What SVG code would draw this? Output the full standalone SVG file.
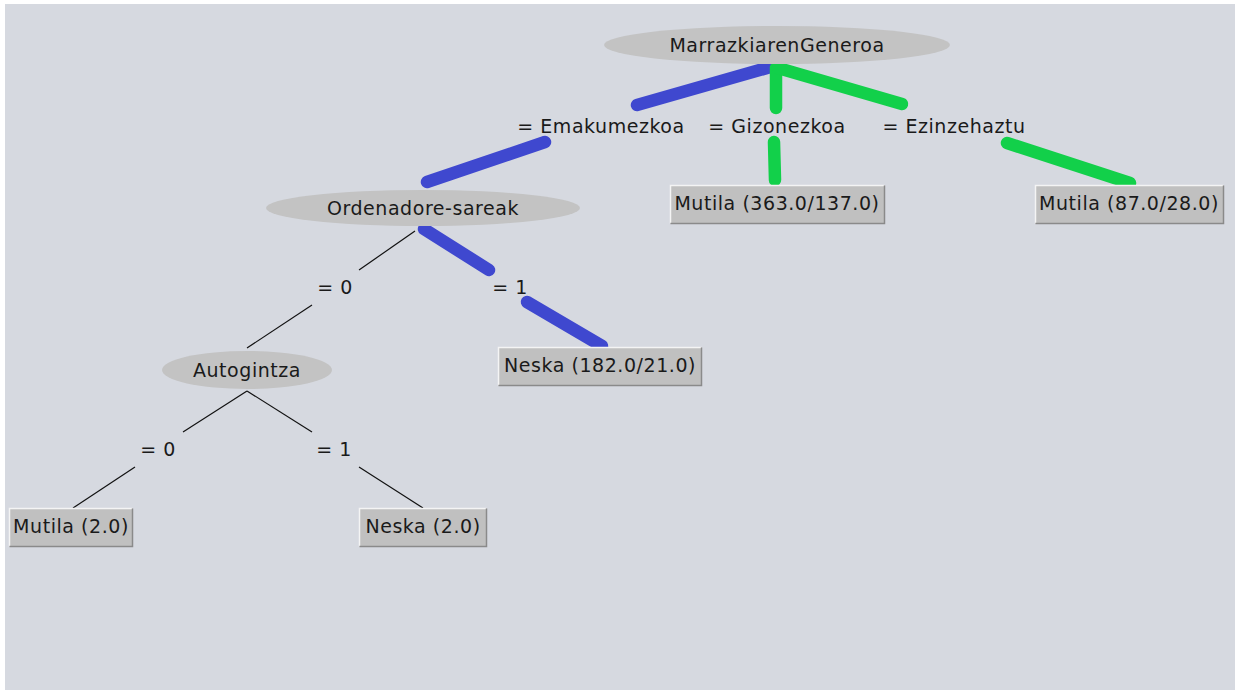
<svg xmlns="http://www.w3.org/2000/svg" width="1235" height="690" viewBox="0 0 1235 690">
  <style>
    text { font-family: "DejaVu Sans", "Liberation Sans", sans-serif; font-size: 19px; letter-spacing: 0.55px; fill: #1a1a1a; }
    .node ellipse { fill: #c3c3c3; }
    .leaf rect { fill: #c0c0c0; }
    .hl { stroke: #f4f4f4; stroke-width: 1.5; fill: none; }
    .sh { stroke: #8a8a8a; stroke-width: 1.5; fill: none; }
    .thin { stroke: #111; stroke-width: 1.2; fill: none; }
    .blue { stroke: #3f48cf; stroke-width: 12.5; stroke-linecap: round; fill: none; }
    .green { stroke: #12d04a; stroke-width: 12.5; stroke-linecap: round; fill: none; }
  </style>

  <!-- panel -->
  <rect x="0" y="0" width="1235" height="690" fill="#ffffff"/>
  <rect x="5" y="4" width="1230" height="686" fill="#d6d9e0"/>

  <!-- connectors -->
  <g id="connectors">
    <line class="blue" x1="774" y1="66" x2="637" y2="105"/>
    <line class="green" x1="776" y1="68" x2="776" y2="108"/>
    <line class="green" x1="778" y1="68" x2="902" y2="104"/>
    <line class="blue" x1="545" y1="142" x2="427" y2="182"/>
    <line class="green" x1="774" y1="142" x2="775" y2="180"/>
    <line class="green" x1="1007" y1="143" x2="1130" y2="183"/>
    <line class="thin" x1="415" y1="231" x2="359" y2="270"/>
    <line class="blue" x1="424" y1="229" x2="489" y2="270"/>
    <line class="thin" x1="312" y1="305" x2="247" y2="348"/>
    <line class="blue" x1="527" y1="302" x2="602" y2="346"/>
    <line class="thin" x1="247" y1="391" x2="183" y2="432"/>
    <line class="thin" x1="247" y1="391" x2="312" y2="432"/>
    <line class="thin" x1="135" y1="467" x2="73" y2="508"/>
    <line class="thin" x1="359" y1="467" x2="423" y2="508"/>
  </g>

  <!-- edge labels -->
  <g id="edge-labels">
    <text x="601" y="133" text-anchor="middle">= Emakumezkoa</text>
    <text x="777" y="133" text-anchor="middle">= Gizonezkoa</text>
    <text x="954" y="133" text-anchor="middle">= Ezinzehaztu</text>
    <text x="335" y="294" text-anchor="middle">= 0</text>
    <text x="510" y="294" text-anchor="middle">= 1</text>
    <text x="158" y="456" text-anchor="middle">= 0</text>
    <text x="334" y="456" text-anchor="middle">= 1</text>
  </g>

  <g id="n-marrazkiarengeneroa" class="node">
    <ellipse cx="777" cy="45" rx="173" ry="19"/>
    <text x="777" y="52" text-anchor="middle">MarrazkiarenGeneroa</text>
  </g>

  <g id="n-ordenadore-sareak" class="node">
    <ellipse cx="423" cy="208" rx="157" ry="18"/>
    <text x="423" y="215" text-anchor="middle">Ordenadore-sareak</text>
  </g>

  <g id="n-autogintza" class="node">
    <ellipse cx="247" cy="370" rx="85" ry="19"/>
    <text x="247" y="377" text-anchor="middle">Autogintza</text>
  </g>

  <g id="leaf-gizon" class="leaf">
    <rect x="670" y="185" width="215" height="39"/>
    <polyline class="hl" points="670.5,223.5 670.5,185.5 884.5,185.5"/>
    <polyline class="sh" points="670.5,223.5 884.5,223.5 884.5,185.5"/>
    <text x="777" y="210" text-anchor="middle">Mutila (363.0/137.0)</text>
  </g>

  <g id="leaf-ezin" class="leaf">
    <rect x="1035" y="185" width="189" height="39"/>
    <polyline class="hl" points="1035.5,223.5 1035.5,185.5 1223.5,185.5"/>
    <polyline class="sh" points="1035.5,223.5 1223.5,223.5 1223.5,185.5"/>
    <text x="1129" y="210" text-anchor="middle">Mutila (87.0/28.0)</text>
  </g>

  <g id="leaf-sareak1" class="leaf">
    <rect x="498" y="347" width="204" height="39"/>
    <polyline class="hl" points="498.5,385.5 498.5,347.5 701.5,347.5"/>
    <polyline class="sh" points="498.5,385.5 701.5,385.5 701.5,347.5"/>
    <text x="600" y="372" text-anchor="middle">Neska (182.0/21.0)</text>
  </g>

  <g id="leaf-auto0" class="leaf">
    <rect x="9" y="508" width="124" height="39"/>
    <polyline class="hl" points="9.5,546.5 9.5,508.5 132.5,508.5"/>
    <polyline class="sh" points="9.5,546.5 132.5,546.5 132.5,508.5"/>
    <text x="71" y="533" text-anchor="middle">Mutila (2.0)</text>
  </g>

  <g id="leaf-auto1" class="leaf">
    <rect x="359" y="508" width="128" height="39"/>
    <polyline class="hl" points="359.5,546.5 359.5,508.5 486.5,508.5"/>
    <polyline class="sh" points="359.5,546.5 486.5,546.5 486.5,508.5"/>
    <text x="423" y="533" text-anchor="middle">Neska (2.0)</text>
  </g>
</svg>
